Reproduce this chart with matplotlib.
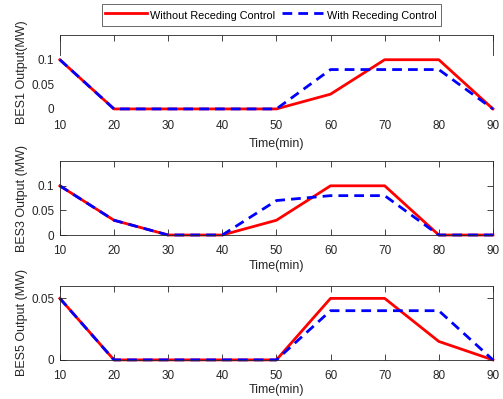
import numpy as np
import matplotlib.pyplot as plt

plt.rcParams['font.family'] = ['Liberation Sans', 'DejaVu Sans']
plt.rcParams['font.size'] = 9

time = [10, 20, 30, 40, 50, 60, 70, 80, 90]

bes1_without = [0.1, 0, 0, 0, 0, 0.03, 0.1, 0.1, 0]
bes1_with = [0.1, 0, 0, 0, 0, 0.08, 0.08, 0.08, 0]
bes3_without = [0.1, 0.03, 0, 0, 0.03, 0.1, 0.1, 0, 0]
bes3_with = [0.1, 0.03, 0, 0, 0.07, 0.08, 0.08, 0, 0]
bes5_without = [0.05, 0, 0, 0, 0, 0.05, 0.05, 0.015, 0]
bes5_with = [0.05, 0, 0, 0, 0, 0.04, 0.04, 0.04, 0]

panels = [
    (bes1_without, bes1_with, 'BES1 Output(MW)', 0.15, [0, 0.05, 0.1], ['0', '0.05', '0.1']),
    (bes3_without, bes3_with, 'BES3 Output (MW)', 0.15, [0, 0.05, 0.1], ['0', '0.05', '0.1']),
    (bes5_without, bes5_with, 'BES5 Output (MW)', 0.06, [0, 0.05], ['0', '0.05']),
]
bottoms = [0.727, 0.411, 0.098]
dark = '#262626'

fig = plt.figure(figsize=(5.03, 3.99), dpi=100)
axes = []
for (y_wo, y_w, ylab, ytop, yt, ytl), b in zip(panels, bottoms):
    ax = fig.add_axes([0.119, b, 0.861, 0.185])
    l1, = ax.plot(time, y_wo, color='red', lw=2, label='Without Receding Control', clip_on=False)
    l2, = ax.plot(time, y_w, color='blue', lw=2, ls=(0, (3.5, 2.2)), label='With Receding Control', clip_on=False)
    ax.set_xlim(10, 90)
    ax.set_ylim(0, ytop)
    ax.set_xticks(time)
    ax.set_yticks(yt)
    ax.set_yticklabels(ytl)
    ax.tick_params(direction='in', top=True, right=True, colors=dark, length=4, width=0.6,
                   labelsize=8.5)
    ax.tick_params(axis='x', pad=7)
    ax.tick_params(axis='y', pad=4)
    for s in ax.spines.values():
        s.set_color(dark)
        s.set_linewidth(0.6)
    ax.set_xlabel('Time(min)', color=dark, labelpad=2)
    ax.set_ylabel(ylab, color=dark, labelpad=2)
    axes.append(ax)

# the top panel in the source only shows its upper frame
ax1 = axes[0]
ax1.spines['bottom'].set_visible(False)
ax1.spines['left'].set_bounds(0.11, 0.15)
ax1.spines['right'].set_bounds(0.11, 0.15)
ax1.tick_params(bottom=False, left=False, right=False)
ax1.tick_params(axis='x', pad=8)
ax1.xaxis.labelpad = 4

leg = fig.legend(handles=[l1, l2], loc='center', bbox_to_anchor=(0.539, 0.962), ncol=2,
                 frameon=True, fancybox=False, edgecolor=dark, fontsize=7.8,
                 handlelength=3.8, handleheight=1.6, columnspacing=0.6, handletextpad=0.35,
                 borderpad=0.35, borderaxespad=0)
leg.get_frame().set_linewidth(0.6)

plt.savefig('out.png', dpi=100)
